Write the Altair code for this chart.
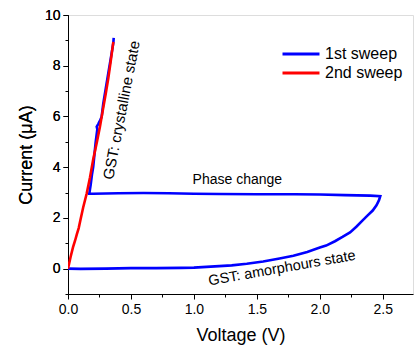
import altair as alt
import pandas as pd

# 1st sweep (blue): bottom branch -> corner -> top branch back -> crystalline rise
v1 = [0.0, 0.1, 0.3, 0.5, 0.7, 0.9, 1.0, 1.1, 1.2, 1.3, 1.42, 1.55, 1.68, 1.79, 1.9, 2.0,
      2.05, 2.12, 2.18, 2.24, 2.29, 2.34, 2.38, 2.42, 2.45, 2.47, 2.48,
      2.4, 2.2, 2.0, 1.8, 1.5, 1.2, 1.0, 0.8, 0.6, 0.4, 0.3, 0.2, 0.169,
      0.18, 0.19, 0.2, 0.21, 0.22, 0.233, 0.228, 0.24, 0.255, 0.267, 0.28, 0.3, 0.32, 0.34, 0.36, 0.363]
i1 = [0.0, -0.01, 0.0, 0.02, 0.02, 0.03, 0.04, 0.07, 0.1, 0.13, 0.19, 0.28, 0.4, 0.51, 0.66, 0.83,
      0.91, 1.08, 1.25, 1.43, 1.65, 1.9, 2.1, 2.29, 2.5, 2.7, 2.86,
      2.88, 2.9, 2.92, 2.93, 2.93, 2.94, 2.95, 2.97, 2.98, 2.97, 2.96, 2.95, 2.95,
      3.3, 3.7, 4.0, 4.5, 5.0, 5.5, 5.6, 5.7, 5.85, 5.98, 6.5, 7.1, 7.7, 8.3, 8.9, 9.1]

# 2nd sweep (red)
v2 = [0.0, 0.02, 0.04, 0.056, 0.07, 0.085, 0.1, 0.12, 0.148, 0.175, 0.2, 0.23, 0.254,
      0.275, 0.3, 0.32, 0.34, 0.36]
i2 = [0.0, 0.45, 0.85, 1.1, 1.35, 1.6, 1.95, 2.4, 2.95, 3.6, 4.3, 5.0, 5.6,
      6.2, 6.9, 7.5, 8.2, 8.94]

series_names = ["1st sweep", "2nd sweep"]
colors = ["#0000FF", "#FF0000"]

rows = []
for k, (v, c) in enumerate(zip(v1, i1)):
    rows.append({"V": v, "I": c, "sweep": series_names[0], "order": k})
for k, (v, c) in enumerate(zip(v2, i2)):
    rows.append({"V": v, "I": c, "sweep": series_names[1], "order": k})
df = pd.DataFrame(rows)

ann_text = ["GST: crystalline state", "Phase change", "GST: amorphours state"]
ann_v = [0.425, 1.345, 1.70]
ann_i = [6.25, 3.5, 0.0]
ann_angle = [281, 0, 350]
ann_size = [15, 14, 14.5]
ann = pd.DataFrame({"text": ann_text, "V": ann_v, "I": ann_i, "angle": ann_angle, "size": ann_size})

x_ticks = [0.0, 0.25, 0.5, 0.75, 1.0, 1.25, 1.5, 1.75, 2.0, 2.25, 2.5]
y_major_ticks = [0, 2, 4, 6, 8, 10]
y_minor_ticks = [-1, 1, 3, 5, 7, 9]

FONT = "Liberation Sans"

xscale = alt.Scale(domain=[0, 2.74], nice=False, zero=False)
yscale = alt.Scale(domain=[-1, 10], nice=False, zero=False)

x_major = "abs(round(datum.value*2) - datum.value*2) < 0.01"

x_axis = alt.Axis(
    values=x_ticks, title="Voltage (V)", grid=False, format=".1f",
    labelExpr=x_major + " ? datum.label : ''",
    tickSize={"condition": {"test": x_major, "value": 5}, "value": 3},
    domainColor="black", tickColor="black", labelColor="black", titleColor="black",
    labelFontSize=14, titleFontSize=18, labelFont=FONT, titleFont=FONT,
    titleFontWeight="normal", titlePadding=10, labelPadding=3, labelFlush=False,
)
y_axis = alt.Axis(
    values=y_major_ticks, title="Current (μA)", grid=False, orient="left",
    tickSize=5,
    domainColor="black", tickColor="black", labelColor="black", titleColor="black",
    labelFontSize=14, titleFontSize=18, labelFont=FONT, titleFont=FONT,
    titleFontWeight="normal", titlePadding=9, labelPadding=3, labelFlush=False,
)
y_minor_axis = alt.Axis(
    values=y_minor_ticks, title=None, grid=False, orient="left", labels=False,
    tickSize=3, domain=False, tickColor="black",
)

lines = alt.Chart(df).mark_line(strokeWidth=2.6, clip=True).encode(
    x=alt.X("V:Q", scale=xscale, axis=x_axis),
    y=alt.Y("I:Q", scale=yscale, axis=y_axis),
    color=alt.Color("sweep:N", scale=alt.Scale(domain=series_names, range=colors),
                    legend=alt.Legend(title=None, orient="none", legendX=222, legendY=28,
                                      symbolType="M-2,0H2", symbolSize=342, symbolStrokeWidth=3,
                                      labelFontSize=16, labelFont=FONT, labelColor="black",
                                      labelOffset=13, rowPadding=-2)),
    order="order:Q",
)

minor = alt.Chart(df).mark_line(opacity=0).encode(
    x=alt.X("V:Q", scale=xscale, axis=x_axis),
    y=alt.Y("I:Q", scale=yscale, axis=y_minor_axis),
    detail="sweep:N",
    order="order:Q",
)

texts = alt.Chart(ann).mark_text(font=FONT, color="black", baseline="middle", align="center").encode(
    x=alt.X("V:Q", scale=xscale, axis=x_axis),
    y=alt.Y("I:Q", scale=yscale, axis=y_axis),
    text="text:N",
    angle=alt.Angle("angle:Q", scale=None),
    size=alt.Size("size:Q", scale=None),
)

chart = alt.layer(lines, texts, minor).resolve_axis(y="independent").properties(
    width=345, height=279,
    autosize=alt.AutoSizeParams(type="none"),
    padding={"left": 68, "top": 15, "right": 2, "bottom": 55},
).configure_view(stroke=None).configure(background="white")

chart.save("out.html", embed_options={"renderer": "svg", "actions": False})
